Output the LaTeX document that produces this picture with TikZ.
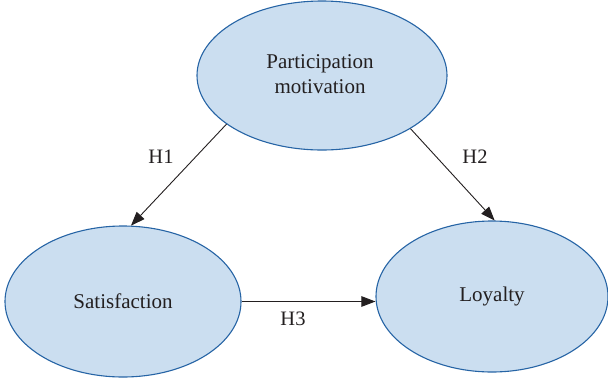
\documentclass[tikz,border=0pt]{standalone}
\usepackage{fontspec}
\setmainfont{Liberation Serif}
\usetikzlibrary{shapes.geometric,arrows.meta}
\definecolor{ellfill}{RGB}{203,222,240}
\definecolor{elldraw}{RGB}{38,100,165}
\definecolor{txt}{RGB}{35,31,32}
\tikzset{
  construct/.style={ellipse, draw=elldraw, fill=ellfill, line width=1.1pt, inner sep=0pt,
    text=txt, font=\fontsize{21}{25}\selectfont, align=center},
  hyp/.style={-{Triangle[length=14pt,width=10.5pt]}, line width=0.9pt, draw=txt},
  hlabel/.style={text=txt, font=\fontsize{20.5}{25}\selectfont, inner sep=0pt}
}
\begin{document}
\begin{tikzpicture}[x=1pt,y=-1pt]
\useasboundingbox (0,0) rectangle (608,381);
\node[construct, minimum width=250pt, minimum height=149pt] (pm) at (322,75.5) {};
\node[text=txt, font=\fontsize{21}{25}\selectfont, align=center] (pmt) at (320,74) {Participation\\motivation};
\node[construct, minimum width=236pt, minimum height=151pt] (sat) at (123,301.5) {Satisfaction};
\node[construct, minimum width=232pt, minimum height=151pt] (loy) at (492,296.5) {Loyalty};
\draw[hyp] (pm.207.5) -- (sat.84);
\draw[hyp] (pm.329.5) -- (loy.88);
\coordinate (h3s) at (sat.east);
\draw[hyp] (h3s) -- (h3s -| loy.west);
\node[hlabel] (h1) at (161,157) {H1};
\node[hlabel] (h2) at (475,157) {H2};
\node[hlabel] (h3) at (293,318.5) {H3};
\end{tikzpicture}
\end{document}
